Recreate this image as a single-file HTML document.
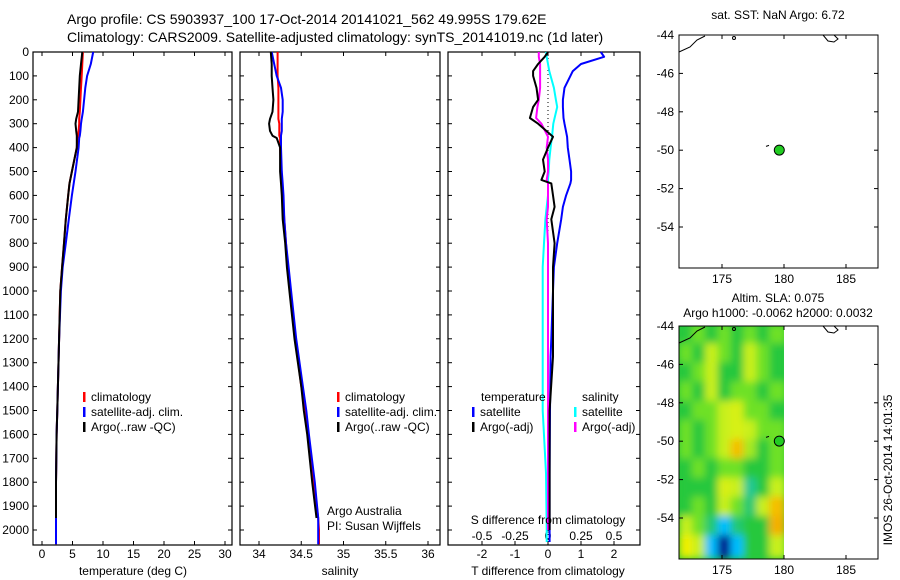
<!DOCTYPE html>
<html><head><meta charset="utf-8">
<style>
body{margin:0;background:#fff;}
svg{display:block;font-family:"Liberation Sans",sans-serif;}
text{fill:#000;}
</style></head>
<body>
<svg id="chart" width="900" height="580" viewBox="0 0 900 580" xmlns="http://www.w3.org/2000/svg">
<text x="67" y="24" font-size="14">Argo profile: CS 5903937_100 17-Oct-2014 20141021_562 49.995S 179.62E</text>
<text x="67" y="42" font-size="14">Climatology: CARS2009. Satellite-adjusted climatology: synTS_20141019.nc (1d later)</text>
<g id="g"></g>
</svg>
<script>
// ---- data ----
const depths = [0,50,100,150,200,250,280,300,330,350,360,400,500,550,600,700,800,900,1000,1200,1400,1500,1600,1800,1950,2000,2060];
const tClim = [6.7,6.6,6.5,6.4,6.3,6.2,6.1,6.1,6.0,5.9,5.8,5.7,4.9,4.5,4.3,3.9,3.6,3.3,3.0,2.8,2.6,2.5,2.4,2.3,2.3,2.3,2.3];
const tSat  = [8.4,8.0,7.4,7.1,6.9,6.7,6.5,6.4,6.3,6.2,6.1,6.0,5.5,5.2,4.9,4.4,3.9,3.4,3.1,2.8,2.6,2.5,2.4,2.3,2.3,2.3,2.3];
const tArgo = [6.6,6.4,6.2,6.1,6.0,5.9,5.6,5.5,5.6,5.7,5.7,5.7,4.9,4.5,4.3,3.9,3.6,3.3,3.0,2.8,2.6,2.5,2.4,2.3,2.3,null,null];
const sClim = [34.22,34.22,34.22,34.23,34.23,34.23,34.23,34.24,34.24,34.24,34.25,34.25,34.26,34.27,34.28,34.30,34.32,34.34,34.37,34.43,34.50,34.55,34.58,34.65,34.70,34.71,34.71];
const sSat  = [34.15,34.18,34.21,34.26,34.28,34.28,34.27,34.27,34.27,34.26,34.26,34.26,34.27,34.28,34.29,34.30,34.32,34.35,34.38,34.44,34.52,34.56,34.59,34.66,34.70,34.70,34.70];
const sArgo = [34.14,34.15,34.15,34.16,34.17,34.16,34.13,34.12,34.13,34.16,34.21,34.25,34.25,34.26,34.27,34.28,34.31,34.33,34.36,34.42,34.50,34.53,34.57,34.63,34.68,null,null];
const dDepth = [0,20,50,80,100,150,200,230,276,300,355,400,450,500,535,550,600,648,700,800,900,1000,1200,1275,1500,1762,2000,2050];
const dTSat  = [1.6,1.7,1.0,0.75,0.68,0.5,0.45,0.45,0.47,0.5,0.58,0.6,0.65,0.7,0.7,0.68,0.55,0.45,0.4,0.28,0.18,0.15,0.1,0.08,0.06,0.05,0.05,0.05];
const dTArgo = [0.0,-0.1,-0.3,-0.45,-0.45,-0.35,-0.3,-0.45,-0.55,-0.3,0.15,0.0,-0.15,-0.1,-0.2,0.1,0.15,0.2,0.1,0.2,0.15,0.15,0.15,0.15,0.05,0.05,0.05,null];
const dSSat  = [-0.015,-0.01,0.0,0.01,0.02,0.045,0.06,0.07,0.05,0.04,0.03,0.02,0.01,0.005,0.0,0.0,0.0,-0.01,-0.02,-0.03,-0.04,-0.04,-0.04,-0.04,-0.04,-0.015,-0.01,-0.01];
const dSArgo = [-0.07,-0.07,-0.06,-0.06,-0.06,-0.06,-0.07,-0.08,-0.09,-0.05,0.0,-0.01,0.0,0.0,-0.01,0.0,0.0,0.0,-0.01,0.0,0.0,0.0,0.0,0.0,0.0,0.0,0.0,null];
const depthTicks = [0,100,200,300,400,500,600,700,800,900,1000,1100,1200,1300,1400,1500,1600,1700,1800,1900,2000];
const tTicks = [0,5,10,15,20,25,30];
const sTicks = [34,34.5,35,35.5,36];
const sTickLabels = ["34","34.5","35","35.5","36"];
const dTTicks = [-2,-1,0,1,2];
const dTTickLabels = ["-2","-1","0","1","2"];
const dSTicks = [-0.5,-0.25,0,0.25,0.5];
const dSTickLabels = ["-0.5","-0.25","0","0.25","0.5"];
const latTicks = [-44,-46,-48,-50,-52,-54];
const lonTicks = [175,180,185];
const argoLon = 179.62, argoLat = -49.995;
const slaLons = [171.7,172.74,173.78,174.81,175.85,176.89,177.93,178.96];
const slaLats = [-44,-45,-46,-47,-48,-49,-50,-51,-52,-53,-54,-55];
const slaGrid = [
[0,0.05,0,0.05,0,0.05,0,0.05],
[0.05,0,0.1,0.05,0,0.1,0.05,0],
[0,0.05,0.1,0,0,0.1,0.05,0],
[0.05,0,0.1,0,0.05,0.05,0,0.05],
[0,0.05,0.05,0.1,0.12,0.05,0.05,0],
[0.05,0,0.05,0.1,0.12,0.1,0.05,0.05],
[0.05,0,0.05,0.1,0.2,0.08,0,0.05],
[0,0.05,0,0.05,0.05,0,0,0.05],
[0,0,0,0.12,0.1,-0.08,0,0.1],
[0,0.05,0,0.1,0.05,-0.05,0.1,0.2],
[0.1,0.05,-0.05,-0.2,-0.05,0,0,0.22],
[0.15,0.1,-0.2,-0.45,-0.2,0,0,0.1]];

// ---- helpers ----
const NS="http://www.w3.org/2000/svg";
const G=document.getElementById('g');
function el(tag,attrs,parent){const e=document.createElementNS(NS,tag);for(const k in attrs)e.setAttribute(k,attrs[k]);(parent||G).appendChild(e);return e;}
function txt(x,y,s,anchor,size){const t=el('text',{x:x,y:y,'font-size':size||12,'text-anchor':anchor||'start'});t.textContent=s;return t;}
const Y0=52, Y1=545, D1=(Y1-Y0)/23.9*100;
const yD=d=>Y0+(Y1-Y0)*d/D1;
function lin(d0,d1,r0,r1){return v=>r0+(v-d0)/(d1-d0)*(r1-r0);}

function frame(x0,x1,name){
  const r=el('rect',{x:x0,y:Y0,width:x1-x0,height:Y1-Y0,fill:'none',stroke:'#000','stroke-width':1.2});
  
  
  depthTicks.forEach(d=>{const y=yD(d);el('line',{x1:x0,y1:y,x2:x0+4,y2:y,stroke:'#000'});el('line',{x1:x1,y1:y,x2:x1-4,y2:y,stroke:'#000'});});
}
function xticks(x0,x1,ticks,sx,labels){
  ticks.forEach((t,i)=>{const x=sx(t);el('line',{x1:x,y1:Y1,x2:x,y2:Y1-4,stroke:'#000'});el('line',{x1:x,y1:Y0,x2:x,y2:Y0+4,stroke:'#000'});
    if(labels){const l=txt(x,558,labels[i],'middle');}});
}
function line(xs,ds,sx,color,name,w){
  let p='',started=false;
  ds.forEach((d,i)=>{const v=xs[i];if(v===null||v===undefined){return;}p+=(started?'L':'M')+sx(v).toFixed(1)+','+yD(d).toFixed(1);started=true;});
  const e=el('path',{d:p,fill:'none',stroke:color,'stroke-width':w||2,'stroke-linejoin':'round'});
  
  
}
function legend(x,y,color,label){
  el('rect',{x:x,y:y-9,width:2.5,height:10,fill:color});
  const t=txt(x+8,y,label);
  
  
}

// ---- panel 1 temperature ----
const sxT=lin(0,30,42,225);
frame(33,232,'temperature-panel');
depthTicks.forEach(d=>{const l=txt(29,yD(d)+4,String(d),'end');});
xticks(33,232,tTicks,sxT,tTicks.map(String));
line(tClim,depths,sxT,'#ff0000','temp-climatology-line');
line(tSat,depths,sxT,'#0000ff','temp-satellite-line');
line(tArgo,depths,sxT,'#000000','temp-argo-line');
let xl=txt(133,575,'temperature (deg C)','middle');
legend(83,401,'#ff0000','climatology');legend(83,416,'#0000ff','satellite-adj. clim.');legend(83,431,'#000','Argo(..raw -QC)');

// ---- panel 2 salinity ----
const sxS=lin(34,36,259,428);
frame(240,440,'salinity-panel');
xticks(240,440,sTicks,sxS,sTickLabels);
line(sClim,depths,sxS,'#ff0000','sal-climatology-line');
line(sSat,depths,sxS,'#0000ff','sal-satellite-line');
line(sArgo,depths,sxS,'#000000','sal-argo-line');
xl=txt(340,575,'salinity','middle');
legend(337,401,'#ff0000','climatology');legend(337,416,'#0000ff','satellite-adj. clim.');legend(337,431,'#000','Argo(..raw -QC)');
txt(327,515,'Argo Australia');txt(327,530,'PI: Susan Wijffels');

// ---- panel 3 differences ----
const sxDT=lin(0,1,548,581);
const sxDS=lin(0,0.25,548,581);
frame(448,640,'difference-panel');
xticks(448,640,dTTicks,sxDT,dTTickLabels);
dSTickLabels.forEach((l,i)=>{const t=txt(sxDS(dSTicks[i]),540,l,'middle');});
el('line',{x1:sxDT(0),y1:58,x2:sxDT(0),y2:Y1,stroke:'#000','stroke-dasharray':'1,3'});
line(dSSat,dDepth,sxDS,'#00ffff','sdiff-satellite-line');
line(dSArgo,dDepth,sxDS,'#ff00ff','sdiff-argo-line');
line(dTSat,dDepth,sxDT,'#0000ff','tdiff-satellite-line');
line(dTArgo,dDepth,sxDT,'#000000','tdiff-argo-line');
txt(481,401,'temperature');legend(472,416,'#0000ff','satellite');legend(472,431,'#000','Argo(-adj)');
txt(582,401,'salinity');legend(574,416,'#00ffff','satellite');legend(574,431,'#ff00ff','Argo(-adj)');
txt(548,524,'S difference from climatology','middle');
xl=txt(548,575,'T difference from climatology','middle');

// ---- maps ----
function slaColor(v){
  const stops=[[-0.45,[0,0,140]],[-0.3,[0,60,255]],[-0.2,[0,190,255]],[-0.1,[30,200,170]],[0,[40,200,60]],[0.05,[110,225,40]],[0.1,[200,240,30]],[0.15,[240,240,0]],[0.2,[245,190,0]],[0.3,[240,120,0]]];
  if(v<=stops[0][0])return 'rgb('+stops[0][1]+')';
  for(let i=1;i<stops.length;i++){if(v<=stops[i][0]){const a=stops[i-1],b=stops[i],f=(v-a[0])/(b[0]-a[0]);return 'rgb('+a[1].map((c,j)=>Math.round(c+f*(b[1][j]-c))).join(',')+')';}}
  return 'rgb('+stops[stops.length-1][1]+')';
}
function map(top,name,withSla){
  const bot=top+(268-35);
  const sx=lin(175,180,722,784), sy=lin(-44,-54,top,top+192);
  const g=el('g',{});
  
  
  if(withSla){
    const defs=el('defs',{},g);const f=el('filter',{id:'bl',x:'-10%',y:'-10%',width:'120%',height:'120%'},defs);el('feGaussianBlur',{stdDeviation:4},f);
    el('clipPath',{id:'cp'},defs);el('rect',{x:679,y:top,width:sx(180)-679,height:bot-top},defs.lastChild);
    const cg=el('g',{'clip-path':'url(#cp)'},g);
    el('rect',{x:679,y:top,width:sx(180)-679,height:bot-top,fill:slaColor(0)},cg);
    const hg=el('g',{filter:'url(#bl)'},cg);
    slaGrid.forEach((row,r)=>row.forEach((v,c)=>{
      const x=sx(slaLons[c]),y=sy(slaLats[r]);
      const cell=el('rect',{x:x-2,y:y-2,width:sx(slaLons[c]+1.04)-x+4,height:sy(slaLats[r]-1)-y+4,fill:slaColor(v)},hg);
      
    }));
  }
  el('rect',{x:679,y:top,width:199,height:bot-top,fill:'none',stroke:'#000'},g);
  latTicks.forEach(l=>{const y=sy(l);el('line',{x1:679,y1:y,x2:683,y2:y,stroke:'#000'},g);el('line',{x1:878,y1:y,x2:874,y2:y,stroke:'#000'},g);
    const t=txt(674,y+4,String(l),'end');g.appendChild(t);});
  lonTicks.forEach(l=>{const x=sx(l);el('line',{x1:x,y1:top,x2:x,y2:top+4,stroke:'#000'},g);el('line',{x1:x,y1:bot,x2:x,y2:bot-4,stroke:'#000'},g);
    const t=txt(x,bot+15,String(l),'middle');g.appendChild(t);});
  el('path',{d:`M679,${top+17} L690,${top+12} L697,${top+5} L705,${top+1}`,fill:'none',stroke:'#000'},g);
  el('circle',{cx:734,cy:top+3,r:1.5,fill:'none',stroke:'#000'},g);
  el('path',{d:`M823,${top} L828,${top+6} L834,${top+7} L838,${top+4} L834,${top}`,fill:'none',stroke:'#000'},g);
  el('path',{d:`M766,${sy(-49.8)} L769,${sy(-49.75)}`,stroke:'#000'},g);
  const dot=el('circle',{cx:sx(argoLon),cy:sy(argoLat),r:5,fill:'#22cc22',stroke:'#000'},g);
  
  
}
map(35,'sst-map',false);
map(326,'sla-map',true);
txt(778,19,'sat. SST: NaN Argo: 6.72','middle');
txt(778,302,'Altim. SLA: 0.075','middle');
txt(778,317,'Argo h1000: -0.0062 h2000: 0.0032','middle');
const rt=txt(0,0,'IMOS 26-Oct-2014 14:01:35','middle');
rt.setAttribute('transform','translate(892,470) rotate(-90)');


</script>
</body></html>
